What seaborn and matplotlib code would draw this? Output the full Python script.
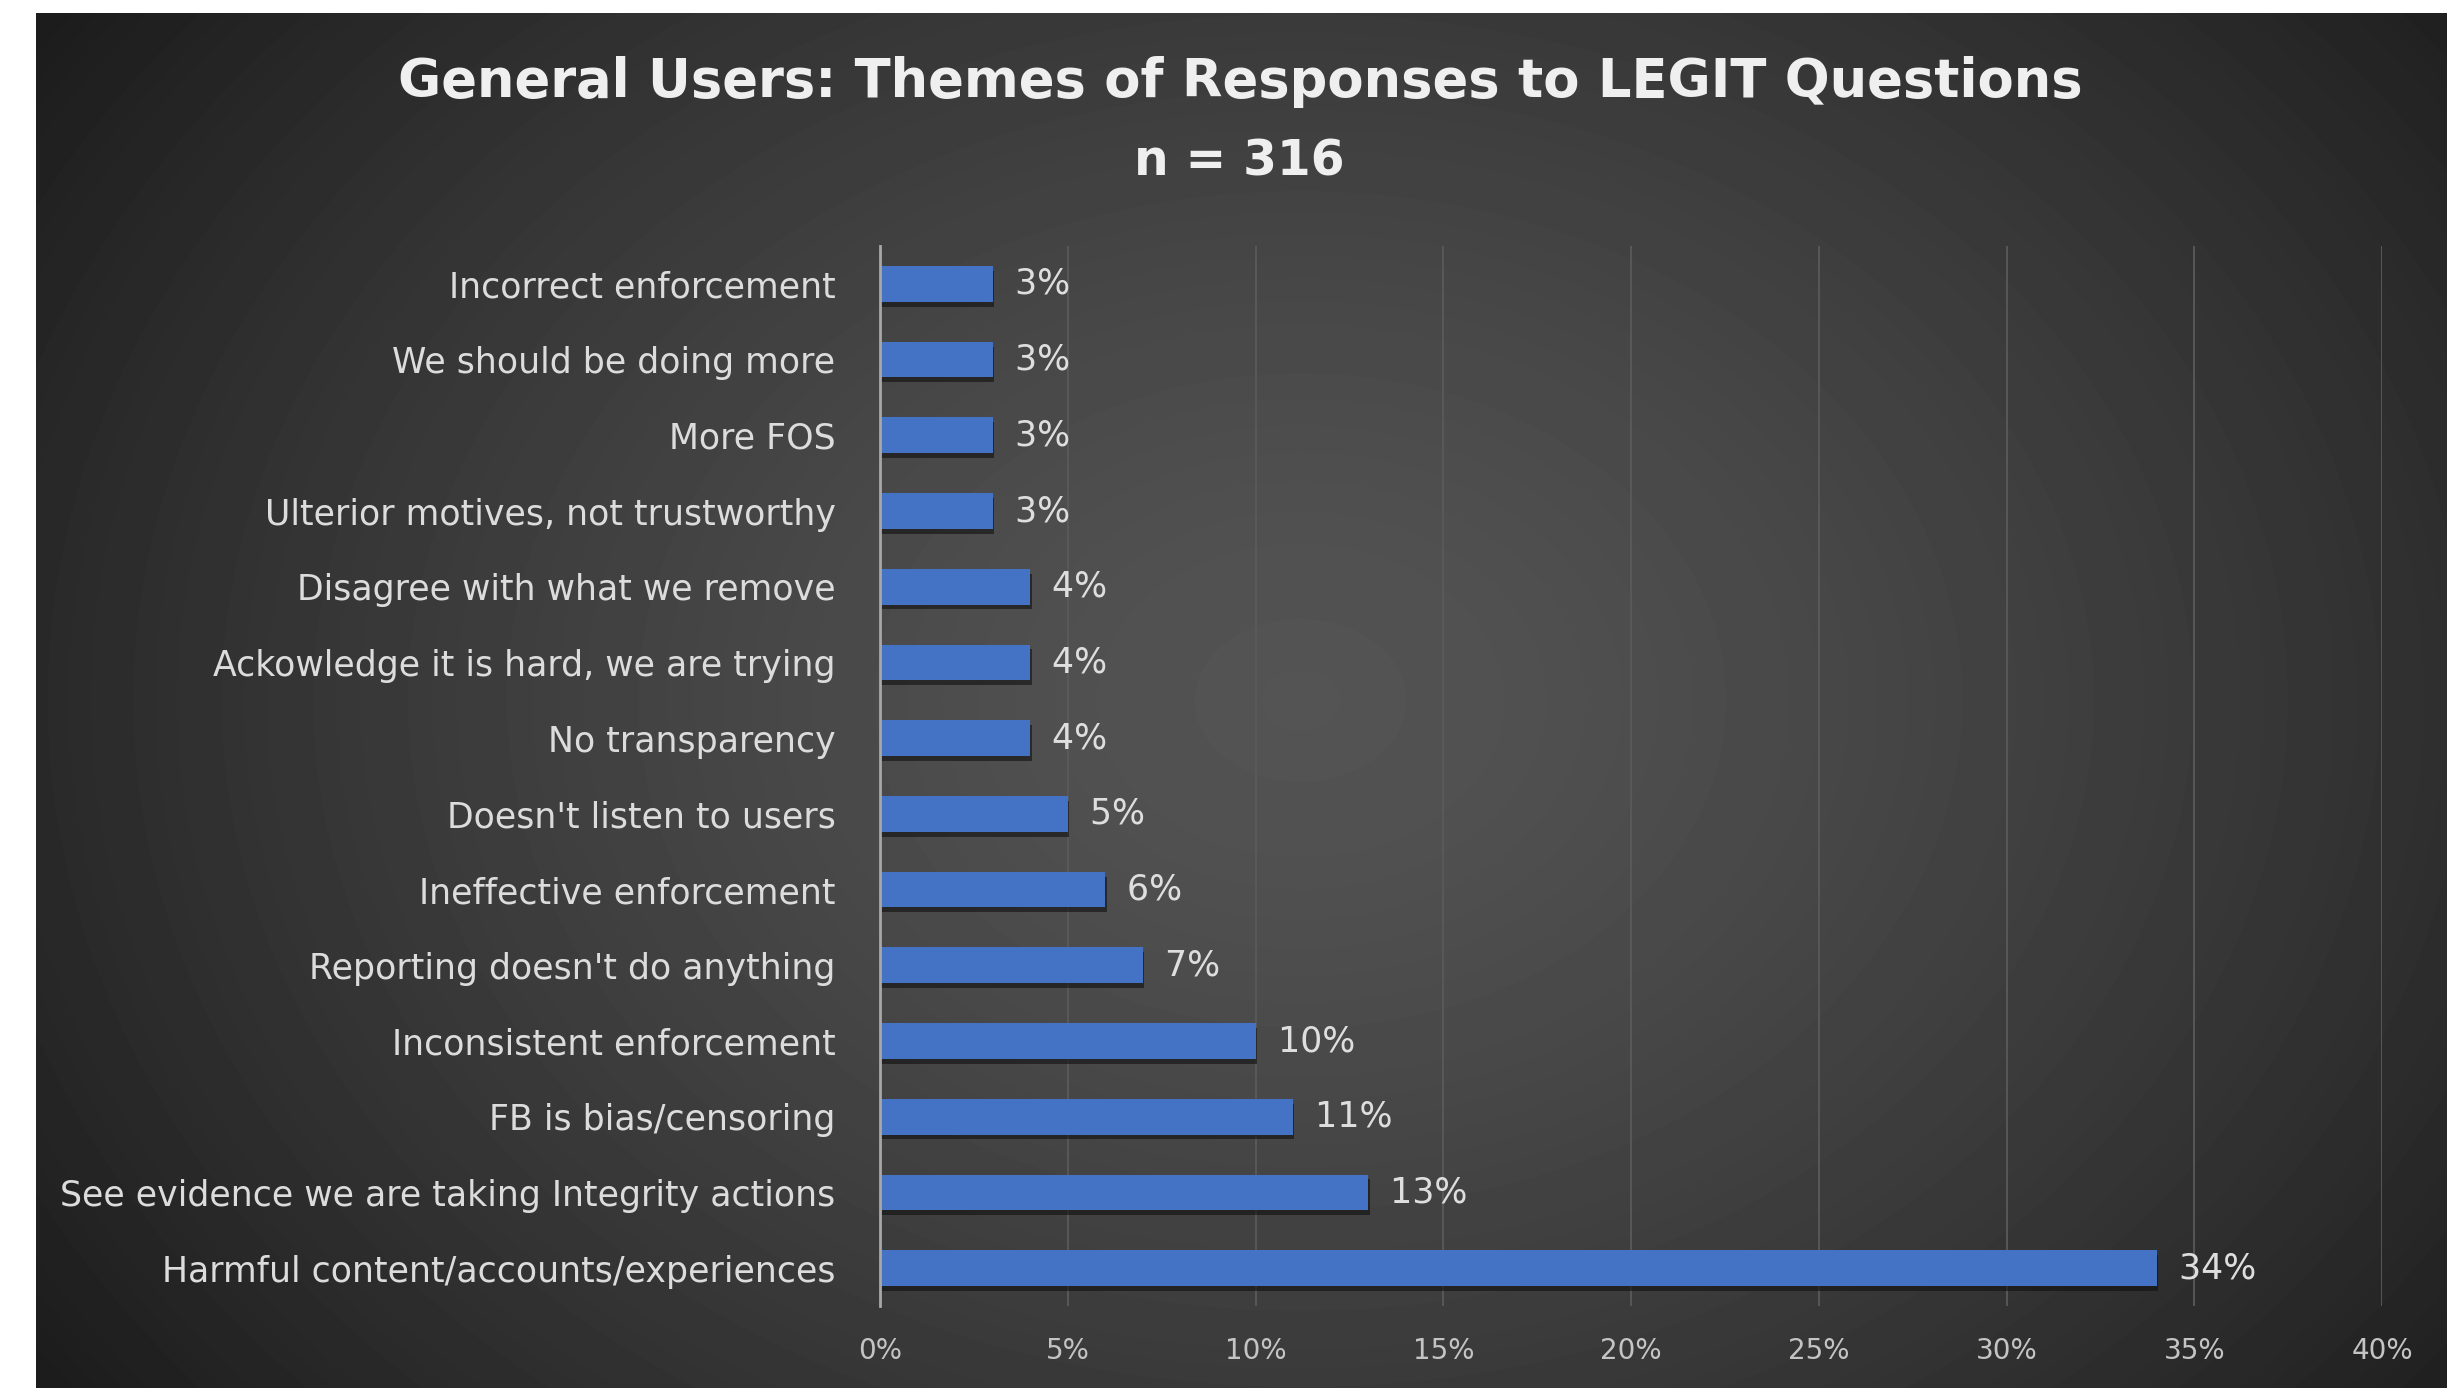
import numpy as np
import pandas as pd
import matplotlib
matplotlib.use("Agg")
import matplotlib.pyplot as plt
import matplotlib.patheffects as pe
from matplotlib.ticker import FuncFormatter
import seaborn as sns

# Survey themes (top to bottom) and share of responses
categories = [
    "Incorrect enforcement",
    "We should be doing more",
    "More FOS",
    "Ulterior motives, not trustworthy",
    "Disagree with what we remove",
    "Ackowledge it is hard, we are trying",
    "No transparency",
    "Doesn't listen to users",
    "Ineffective enforcement",
    "Reporting doesn't do anything",
    "Inconsistent enforcement",
    "FB is bias/censoring",
    "See evidence we are taking Integrity actions",
    "Harmful content/accounts/experiences",
]
shares = [0.03, 0.03, 0.03, 0.03, 0.04, 0.04, 0.04, 0.05, 0.06, 0.07, 0.10, 0.11, 0.13, 0.34]
x_ticks = [0.00, 0.05, 0.10, 0.15, 0.20, 0.25, 0.30, 0.35, 0.40]

title = "General Users: Themes of Responses to LEGIT Questions"
subtitle = "n = 316"

df = pd.DataFrame({"theme": categories, "share": shares})

sns.set_theme(style="white")
plt.rcParams["font.family"] = ["DejaVu Sans"]

W, H = 2458, 1388
fig = plt.figure(figsize=(W / 100, H / 100), dpi=100, facecolor="white")

# Dark panel with a broad, soft radial glow
px0, px1, py0 = 36, 2447, 13
bg = fig.add_axes([px0 / W, 0, (px1 - px0) / W, (H - py0) / H], zorder=0)
gx = np.arange(px0, px1)
gy = np.arange(py0, H)
XX, YY = np.meshgrid(gx, gy)
cx, cy = 1300, 700
d = np.sqrt(((XX - cx) / 1.3) ** 2 + (YY - cy) ** 2)
val = 84 - 54 * np.clip(d / 1150, 0, 1.1) ** 1.4
val = np.clip(val, 28, 255) / 255.0
bg.imshow(val, cmap="gray", vmin=0, vmax=1, aspect="auto", interpolation="bilinear")
bg.set_axis_off()

# Main bar axes
ax_l, ax_r = 880, 2382
ax_t, ax_b = 246, 1306
ax = fig.add_axes([ax_l / W, 1 - ax_b / H, (ax_r - ax_l) / W, (ax_b - ax_t) / H], zorder=2)
ax.set_facecolor("none")

sns.barplot(data=df, x="share", y="theme", orient="h", color="#4472C4",
            saturation=1, width=0.47, ax=ax, zorder=3)

for patch in ax.patches:
    patch.set_path_effects([
        pe.SimplePatchShadow(offset=(1.0, -3.5), shadow_rgbFace="#101010", alpha=0.6),
        pe.Normal(),
    ])
    patch.set_edgecolor("none")

for i, v in enumerate(shares):
    ax.text(v, i, f"  {v:.0%}", va="center", ha="left", color="#dedede",
            fontsize=25, zorder=4)

ax.set_xlim(0, 0.40)
ax.set_ylim(len(categories) - 0.5, -0.5)
ax.set_xticks(x_ticks)
ax.xaxis.set_major_formatter(FuncFormatter(lambda v, _: f"{v:.0%}"))
ax.set_xlabel("")
ax.set_ylabel("")

for t in x_ticks[1:]:
    ax.axvline(t, color="#5a5a5a", lw=1.3, zorder=1)

for s in ["top", "right", "bottom"]:
    ax.spines[s].set_visible(False)
ax.spines["left"].set_color("#a8a8a8")
ax.spines["left"].set_linewidth(2)
ax.spines["left"].set_zorder(5)

ax.tick_params(axis="y", length=0, pad=32, labelsize=25, labelcolor="#dcdcdc")
ax.tick_params(axis="x", length=0, pad=22, labelsize=20, labelcolor="#c4c4c4")

fig.text(1240 / W, 1 - 82 / H, title, ha="center", va="center",
         fontsize=38, fontweight="bold", color="#efefef")
fig.text(1239 / W, 1 - 161 / H, subtitle, ha="center", va="center",
         fontsize=35, fontweight="bold", color="#efefef")

fig.savefig("out.png", dpi=100, facecolor="white")
